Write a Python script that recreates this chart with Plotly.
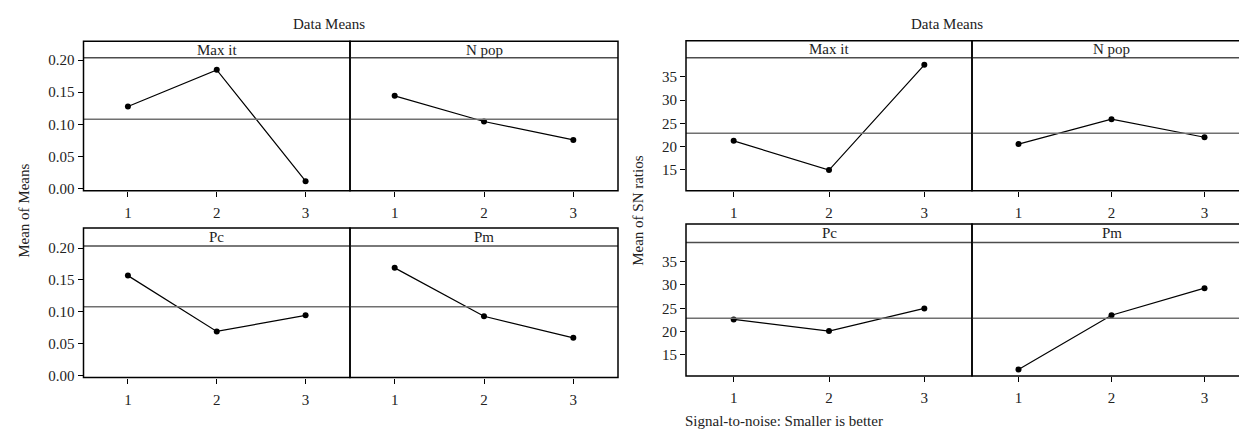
import plotly.graph_objects as go

W, H = 1247, 434
FONT = "Liberation Serif"
FS = 15

levels = [1, 2, 3]
factors = ["Max it", "N pop", "Pc", "Pm"]

# Left chart: Data Means (mean of means)
means = {
    "Max it": [0.1277, 0.1848, 0.0115],
    "N pop": [0.1444, 0.1045, 0.0758],
    "Pc": [0.1568, 0.0690, 0.0944],
    "Pm": [0.1690, 0.0929, 0.0589],
}
grand_mean_means = 0.108
means_ticks = [0.00, 0.05, 0.10, 0.15, 0.20]

# Right chart: mean of SN ratios
sn = {
    "Max it": [21.23, 14.93, 37.6],
    "N pop": [20.52, 25.9, 21.99],
    "Pc": [22.6, 20.1, 24.97],
    "Pm": [11.86, 23.5, 29.3],
}
grand_mean_sn = 22.85
sn_ticks = [15, 20, 25, 30, 35]


def px(x):
    return x / W


def py(y):
    return 1 - y / H


fig = go.Figure()

charts = [
    dict(data=means, gm=grand_mean_means, rng=[-0.0035, 0.2035], ticks=means_ticks, fmt=".2f",
         cols=[(75.5, 342), (342, 610)],
         rows=[(29, 46, 182.5), (220.5, 239, 374)]),
    dict(data=sn, gm=grand_mean_sn, rng=[10.45, 39.1], ticks=sn_ticks, fmt="d",
         cols=[(678, 964), (964, 1243)],
         rows=[(28.5, 46, 182.5), (216.5, 235.5, 372.5)]),
]

shapes = []
annotations = []
idx = 0
for c in charts:
    for r, (ht, pt, pb) in enumerate(c["rows"]):
        first_y = None
        for k, (x0, x1) in enumerate(c["cols"]):
            f = factors[r * 2 + k]
            idx += 1
            xa = "x" if idx == 1 else f"x{idx}"
            ya = "y" if idx == 1 else f"y{idx}"
            xname = "xaxis" if idx == 1 else f"xaxis{idx}"
            yname = "yaxis" if idx == 1 else f"yaxis{idx}"
            fig.add_trace(go.Scatter(
                x=levels, y=c["data"][f], mode="lines+markers",
                line=dict(color="black", width=1.2),
                marker=dict(color="black", size=6),
                xaxis=xa, yaxis=ya, showlegend=False, hoverinfo="x+y"))
            fig.layout[xname] = dict(
                domain=[px(x0), px(x1)], anchor=ya, range=[0.5, 3.5],
                tickvals=levels, ticks="outside", ticklen=5, tickwidth=1,
                tickcolor="black", showgrid=False, zeroline=False, showline=False,
                tickfont=dict(family=FONT, size=FS, color="#222"),
                ticklabelstandoff=3)
            ycfg = dict(
                domain=[py(pb), py(pt)], anchor=xa, range=c["rng"],
                showgrid=False, zeroline=False, showline=False)
            if k == 0:
                first_y = ya
                ycfg.update(tickvals=c["ticks"], tickformat=c["fmt"], ticks="outside",
                            ticklen=5, tickwidth=1, tickcolor="black",
                            tickfont=dict(family=FONT, size=FS, color="#222"))
            else:
                ycfg.update(matches=first_y, showticklabels=False, ticks="")
            fig.layout[yname] = ycfg
            shapes.append(dict(type="line", xref=f"{xa} domain", yref=ya,
                               x0=0, x1=1, y0=c["gm"], y1=c["gm"],
                               line=dict(color="#707070", width=1.5)))
            shapes.append(dict(type="line", xref="paper", yref="paper",
                               x0=px(x0), x1=px(x1), y0=py(pt), y1=py(pt),
                               line=dict(color="#4d4d4d", width=1.5)))
            shapes.append(dict(type="rect", xref="paper", yref="paper",
                               x0=px(x0), x1=px(x1), y0=py(pb), y1=py(ht),
                               line=dict(color="black", width=1.5)))
            annotations.append(dict(text=f, xref="paper", yref="paper",
                                    x=px((x0 + x1) / 2), y=py((ht + pt) / 2),
                                    showarrow=False, xanchor="center", yanchor="middle",
                                    font=dict(family=FONT, size=FS, color="#222")))


def label(text, x, y, xanchor="center", angle=0):
    return dict(text=text, x=px(x), y=py(y), xref="paper", yref="paper",
                xanchor=xanchor, yanchor="middle", showarrow=False, textangle=angle,
                font=dict(family=FONT, size=FS, color="#222"))


annotations += [
    label("Data Means", 321, 11),
    label("Data Means", 939, 11),
    label("Mean of Means", 16, 203, angle=-90),
    label("Mean of SN ratios", 630, 203, angle=-90),
    label("Signal-to-noise: Smaller is better", 675, 419, xanchor="left"),
]

fig.update_layout(width=W, height=H, margin=dict(l=0, r=0, t=0, b=0),
                  plot_bgcolor="white", paper_bgcolor="white",
                  shapes=shapes, annotations=annotations)

fig.write_html("out.html")
